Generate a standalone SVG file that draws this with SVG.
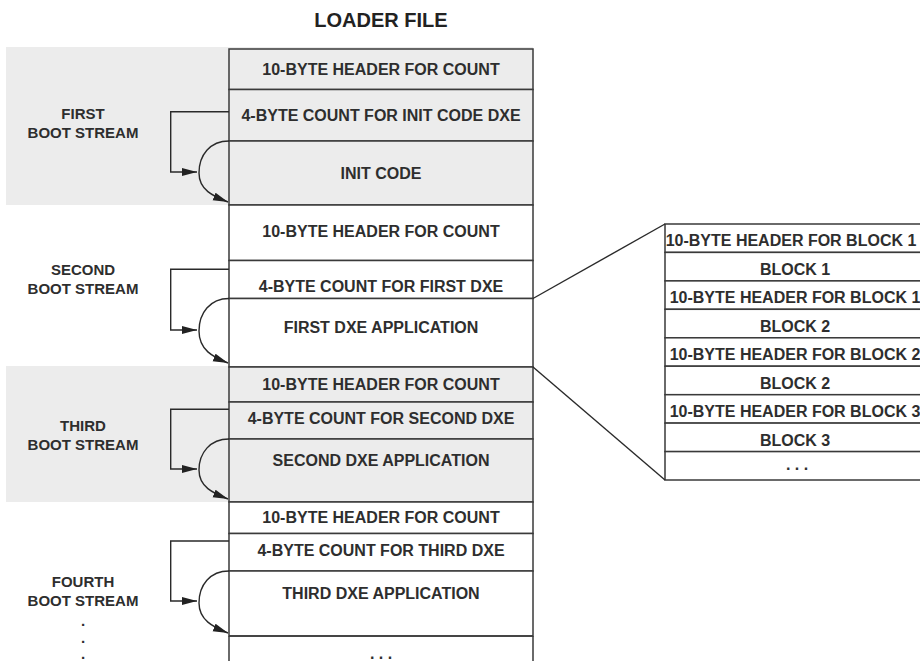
<svg xmlns="http://www.w3.org/2000/svg" width="920" height="661" viewBox="0 0 920 661">
<defs>
<style>
.t{font-family:"Liberation Sans",Arial,Helvetica,sans-serif;font-weight:bold;font-size:16px;fill:#2e2e2e;text-anchor:middle}
.lbl{font-size:15px}
.title{font-size:20px;fill:#222}
.cell{stroke:#3a3a3a;stroke-width:1.5}
.g{fill:#ececec}
.w{fill:#ffffff}
.c{fill:none;stroke:#2a2a2a;stroke-width:1.4}
</style>
<marker id="ah" markerUnits="userSpaceOnUse" markerWidth="17" markerHeight="10" refX="15" refY="4" orient="auto">
<path d="M0,0 L15,4 L0,8 Z" fill="#222"/>
</marker>
</defs>
<rect width="920" height="661" fill="#ffffff"/>
<text class="t title" x="381" y="27">LOADER FILE</text>

<g id="band1"><rect class="g" x="6" y="47" width="527" height="158"/></g>
<g id="band3"><rect class="g" x="6" y="366" width="527" height="136"/></g>

<g id="labels">
<text class="t lbl" x="83" y="119">FIRST</text>
<text class="t lbl" x="83" y="138">BOOT STREAM</text>
<text class="t lbl" x="83" y="275">SECOND</text>
<text class="t lbl" x="83" y="294">BOOT STREAM</text>
<text class="t lbl" x="83" y="431">THIRD</text>
<text class="t lbl" x="83" y="450">BOOT STREAM</text>
<text class="t lbl" x="83" y="587">FOURTH</text>
<text class="t lbl" x="83" y="606">BOOT STREAM</text>
<text class="t lbl" x="83" y="626">.</text>
<text class="t lbl" x="83" y="643">.</text>
<text class="t lbl" x="83" y="659">.</text>
</g>

<g id="r1"><rect class="cell g" x="229" y="49" width="304" height="40.5"/><text class="t" x="381" y="75">10-BYTE HEADER FOR COUNT</text></g>
<g id="r2"><rect class="cell g" x="229" y="89.5" width="304" height="51.5"/><text class="t" x="381" y="121">4-BYTE COUNT FOR INIT CODE DXE</text></g>
<g id="r3"><rect class="cell g" x="229" y="141" width="304" height="64"/><text class="t" x="381" y="179">INIT CODE</text></g>
<g id="r4"><rect class="cell w" x="229" y="205" width="304" height="55.5"/><text class="t" x="381" y="237">10-BYTE HEADER FOR COUNT</text></g>
<g id="r5"><rect class="cell w" x="229" y="260.5" width="304" height="38"/><text class="t" x="381" y="292">4-BYTE COUNT FOR FIRST DXE</text></g>
<g id="r6"><rect class="cell w" x="229" y="298.5" width="304" height="68.5"/><text class="t" x="381" y="333">FIRST DXE APPLICATION</text></g>
<g id="r7"><rect class="cell g" x="229" y="367" width="304" height="35"/><text class="t" x="381" y="390">10-BYTE HEADER FOR COUNT</text></g>
<g id="r8"><rect class="cell g" x="229" y="402" width="304" height="37"/><text class="t" x="381" y="424">4-BYTE COUNT FOR SECOND DXE</text></g>
<g id="r9"><rect class="cell g" x="229" y="439" width="304" height="63"/><text class="t" x="381" y="466">SECOND DXE APPLICATION</text></g>
<g id="r10"><rect class="cell w" x="229" y="502" width="304" height="31.5"/><text class="t" x="381" y="523">10-BYTE HEADER FOR COUNT</text></g>
<g id="r11"><rect class="cell w" x="229" y="533.5" width="304" height="37.5"/><text class="t" x="381" y="556">4-BYTE COUNT FOR THIRD DXE</text></g>
<g id="r12"><rect class="cell w" x="229" y="571" width="304" height="65"/><text class="t" x="381" y="599">THIRD DXE APPLICATION</text></g>
<g id="r13"><path class="cell" d="M229,636 H533 M229,636 V661 M533,636 V661" fill="none"/><text class="t" x="381" y="659">. . .</text></g>

<g id="blocks">
<g id="b1"><rect class="cell w" x="665" y="224" width="260" height="28.4"/><text class="t" x="791" y="246">10-BYTE HEADER FOR BLOCK 1</text></g>
<g id="b2"><rect class="cell w" x="665" y="252.4" width="260" height="28.5"/><text class="t" x="795" y="274.5">BLOCK 1</text></g>
<g id="b3"><rect class="cell w" x="665" y="280.9" width="260" height="28.4"/><text class="t" x="795" y="303">10-BYTE HEADER FOR BLOCK 1</text></g>
<g id="b4"><rect class="cell w" x="665" y="309.3" width="260" height="28.5"/><text class="t" x="795" y="331.5">BLOCK 2</text></g>
<g id="b5"><rect class="cell w" x="665" y="337.8" width="260" height="28.4"/><text class="t" x="795" y="360">10-BYTE HEADER FOR BLOCK 2</text></g>
<g id="b6"><rect class="cell w" x="665" y="366.2" width="260" height="28.5"/><text class="t" x="795" y="388.5">BLOCK 2</text></g>
<g id="b7"><rect class="cell w" x="665" y="394.7" width="260" height="28.4"/><text class="t" x="795" y="417">10-BYTE HEADER FOR BLOCK 3</text></g>
<g id="b8"><rect class="cell w" x="665" y="423.1" width="260" height="28.5"/><text class="t" x="795" y="445.5">BLOCK 3</text></g>
<g id="b9"><rect class="cell w" x="665" y="451.6" width="260" height="28.4"/><text class="t" x="797" y="470">. . .</text></g>
</g>

<g id="connectors">
<path class="c" d="M229,111.7 H170.7 V172 H197" marker-end="url(#ah)"/>
<path class="c" d="M229,141 C210,141 199,155 199,173 C199,190 213,196 228,202" marker-end="url(#ah)"/>
<path class="c" d="M229,269.3 H170.7 V330 H197" marker-end="url(#ah)"/>
<path class="c" d="M229,298.5 C210,298.5 199,313 199,331 C199,350 213,357 228,363" marker-end="url(#ah)"/>
<path class="c" d="M229,409.3 H170.7 V469 H197" marker-end="url(#ah)"/>
<path class="c" d="M229,439 C210,439 199,453 199,470 C199,487 213,493 228,499" marker-end="url(#ah)"/>
<path class="c" d="M229,541 H170.7 V601 H197" marker-end="url(#ah)"/>
<path class="c" d="M229,571 C210,571 199,585 199,603 C199,620 213,627 228,633" marker-end="url(#ah)"/>
<path class="c" d="M533,298.5 L665,224"/>
<path class="c" d="M533,367 L665,480"/>
</g>
</svg>
